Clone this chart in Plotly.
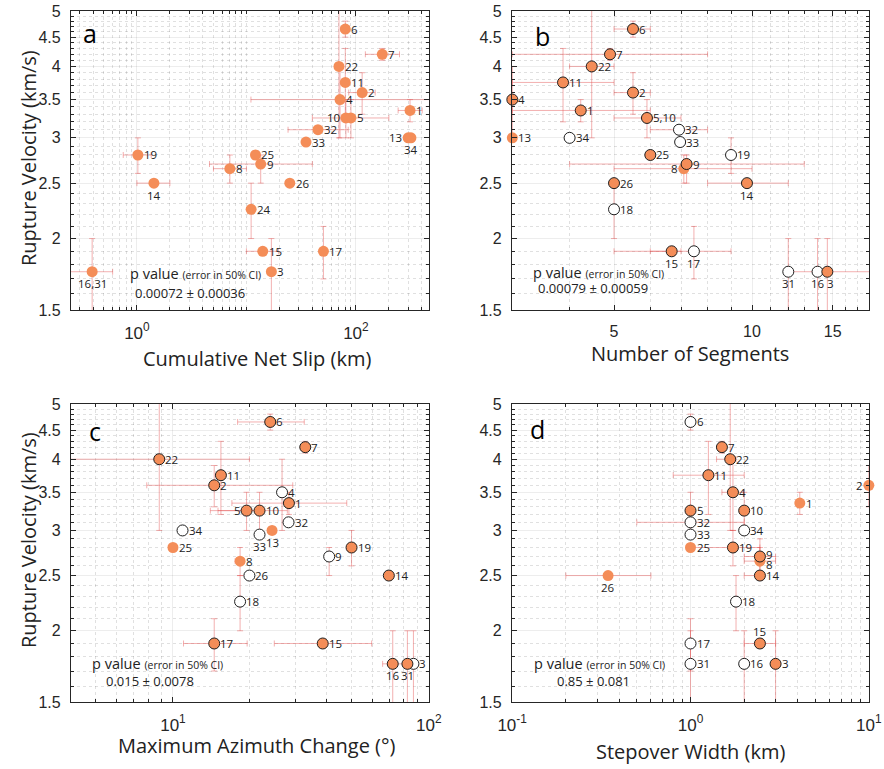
import numpy as np
import plotly.graph_objects as go

W, H = 884, 769

# ---------------- data ----------------
# Panel a: Cumulative Net Slip (km)
A_LABELS = ["1", "2", "3", "4", "5", "6", "7", "8", "9", "10", "11", "13", "14", "15",
            "16,31", "17", "19", "22", "24", "25", "26", "32", "33", "34"]
A_X = [312, 114, 16.9, 71.6, 90, 80, 174, 7.06, 13.5, 81, 80, 300, 1.43, 14.1,
       0.39, 50.5, 1.02, 70, 11.04, 12.1, 24.9, 45, 35, 318]
A_Y = [3.35, 3.6, 1.75, 3.5, 3.25, 4.65, 4.2, 2.65, 2.7, 3.25, 3.75, 3.0, 2.5, 1.9,
       1.75, 1.9, 2.8, 4.0, 2.25, 2.8, 2.5, 3.1, 2.95, 3.0]
A_XLO = [243, 86, None, 11, 40, 73, 122, 5, 4.6, None, None, None, 1.0, 10,
         0.246, None, 0.75, None, None, None, None, 24, None, None]
A_XHI = [403, 150, None, 600, 200, 87, 250, 10, 40, None, None, None, 2.0, 19.6,
         0.6, None, 1.35, None, None, None, None, 85, None, None]
A_YLO = [3.2, 3.3, 1.45, 3.0, 3.0, 4.5, 4.1, 2.5, 2.5, 3.0, 3.2, None, None, None,
         1.45, 1.7, 2.6, 3.0, 2.0, 2.75, None, None, None, None]
A_YHI = [3.5, 3.9, 2.0, 4.0, 3.5, 4.8, 4.3, 2.8, 2.8, 3.5, 4.3, None, None, None,
         2.0, 2.1, 3.0, 5.5, 2.5, 2.85, None, None, None, None]
A_KIND = ["filled"] * len(A_LABELS)

# Panel b: Number of Segments
B_LABELS = ["6", "7", "22", "11", "2", "4", "1", "5,10", "32", "33", "13", "34", "19", "25",
            "9", "8", "26", "14", "18", "15", "17", "31", "16", "3"]
B_X = [5.5, 4.9, 4.47, 3.87, 5.5, 3.0, 4.23, 5.9, 6.93, 6.97, 3.0, 4.0, 9.0, 6.0,
       7.2, 7.1, 5.0, 9.75, 5.0, 6.68, 7.47, 12.0, 13.9, 14.6]
B_Y = [4.65, 4.2, 4.0, 3.75, 3.6, 3.5, 3.35, 3.25, 3.1, 2.95, 3.0, 3.0, 2.8, 2.8,
       2.7, 2.65, 2.5, 2.5, 2.25, 1.9, 1.9, 1.75, 1.75, 1.75]
B_XLO = [5, 3, 4, 3, 5, None, 3, 5, 6, None, None, None, None, None,
         4, 5, None, 8, None, 5, 6, None, None, 12]
B_XHI = [6, 8, 5, 5, 6, None, 6, 7, 8, None, None, None, None, None,
         13, 10, None, 12, None, 7, 9, None, None, 19]
B_YLO = [4.5, 4.1, 3.0, 3.2, 3.3, 3.0, 3.2, 3.0, None, None, None, None, 2.6, None,
         2.5, 2.5, None, None, 2.0, None, 1.7, 1.45, 1.45, 1.45]
B_YHI = [4.8, 4.3, 5.5, 4.3, 3.9, 4.0, 3.5, 3.5, None, None, None, None, 3.0, None,
         2.8, 2.8, None, None, 2.5, None, 2.1, 2.0, 2.0, 2.0]
B_KIND = ["edge", "edge", "edge", "edge", "edge", "edge", "edge", "edge", "open", "open",
          "filled", "open", "open", "edge", "edge", "filled", "edge", "edge", "open",
          "edge", "open", "open", "open", "edge"]

# Panel c: Maximum Azimuth Change (deg)
C_LABELS = ["6", "7", "22", "11", "2", "4", "1", "5", "10", "32", "13", "33", "34", "25",
            "19", "9", "8", "26", "14", "18", "17", "15", "16", "31", "3"]
C_X = [24.0, 32.9, 8.84, 15.4, 14.5, 26.7, 28.4, 19.4, 21.8, 28.3, 24.4, 21.8, 10.9, 10.0,
       49.9, 40.8, 18.3, 19.9, 69.8, 18.3, 14.5, 38.5, 72.3, 82.5, 87.1]
C_Y = [4.65, 4.2, 4.0, 3.75, 3.6, 3.5, 3.35, 3.25, 3.25, 3.1, 3.0, 2.95, 3.0, 2.8,
       2.8, 2.7, 2.65, 2.5, 2.5, 2.25, 1.9, 1.9, 1.75, 1.75, 1.75]
C_XLO = [17.9, None, 3.5, None, 7.9, None, 17, 14, 15, None, None, None, None, None,
         None, None, 17.5, None, None, None, 11, 24.9, 66, None, None]
C_XHI = [32.6, None, 19.9, None, 29.4, None, 47.8, 21, 28, None, None, None, None, None,
         None, None, 19, None, None, None, 19.5, 59.8, 81, None, None]
C_YLO = [4.5, 4.1, 3.0, 3.2, 3.3, 3.0, 3.2, 3.0, 3.0, None, None, None, None, None,
         2.6, 2.5, 2.5, None, None, 2.0, 1.7, None, 1.45, 1.45, 1.45]
C_YHI = [4.8, 4.3, 5.5, 4.3, 3.9, 4.0, 3.5, 3.5, 3.5, None, None, None, None, None,
         3.0, 2.8, 2.8, None, None, 2.5, 2.1, None, 2.0, 2.0, 2.0]
C_KIND = ["edge", "edge", "edge", "edge", "edge", "open", "edge", "edge", "edge", "open",
          "filled", "open", "open", "filled", "edge", "open", "filled", "open", "edge",
          "open", "edge", "edge", "edge", "edge", "open"]

# Panel d: Stepover Width (km)
D_LABELS = ["6", "7", "22", "11", "2", "4", "1", "5", "10", "32", "34", "33", "25", "19",
            "9", "8", "14", "26", "18", "17", "15", "31", "16", "3"]
D_X = [1.0, 1.5, 1.67, 1.26, 10.0, 1.73, 4.1, 1.0, 2.0, 1.0, 2.0, 1.0, 1.0, 1.73,
       2.45, 2.45, 2.45, 0.345, 1.8, 1.0, 2.45, 1.0, 2.0, 3.0]
D_Y = [4.65, 4.2, 4.0, 3.75, 3.6, 3.5, 3.35, 3.25, 3.25, 3.1, 3.0, 2.95, 2.8, 2.8,
       2.7, 2.65, 2.5, 2.5, 2.25, 1.9, 1.9, 1.75, 1.75, 1.75]
D_XLO = [None, None, 1.4, 0.8, None, 1.5, None, None, None, 0.5, None, None, None, 1.0,
         2.0, 2.0, 2.0, 0.2, None, None, 2.0, None, None, None]
D_XHI = [None, None, 1.8, 2.0, None, 2.0, None, None, None, 2.0, None, None, None, 2.45,
         3.0, 3.0, 2.45, 0.6, None, None, 3.0, None, None, None]
D_YLO = [4.5, 4.1, 3.0, 3.2, 3.3, 3.0, 3.2, 3.0, 3.0, None, None, None, None, 2.6,
         2.5, 2.5, None, None, 2.0, 1.7, None, 1.45, 1.45, 1.45]
D_YHI = [4.8, 4.3, 5.5, 4.3, 3.9, 4.0, 3.5, 3.5, 3.5, None, None, None, None, 3.0,
         2.9, 2.8, None, None, 2.5, 2.1, None, 2.0, 2.0, 2.0]
D_KIND = ["open", "edge", "edge", "edge", "filled", "edge", "filled", "edge", "edge", "open",
          "open", "open", "filled", "edge", "edge", "filled", "edge", "filled", "open",
          "open", "edge", "open", "open", "edge"]

P_VALUES = ["0.00072 ± 0.00036", "0.00079 ± 0.00059", "0.015 ± 0.0078", "0.85 ± 0.081"]
PANEL_LETTERS = ["a", "b", "c", "d"]
X_TITLES = ["Cumulative Net Slip (km)", "Number of Segments",
            "Maximum Azimuth Change (°)", "Stepover Width (km)"]
Y_TITLE = "Rupture Velocity (km/s)"

Y_TICKS = [1.5, 2, 2.5, 3, 3.5, 4, 4.5, 5]
Y_TICKTEXT = ["1.5", "2", "2.5", "3", "3.5", "4", "4.5", "5"]

X_TICKS = [[1, 100], [5, 10, 15], [10, 100], [0.1, 1, 10]]
X_TICKTEXT = [["10<sup>0</sup>", "10<sup>2</sup>"], ["5", "10", "15"],
              ["10<sup>1</sup>", "10<sup>2</sup>"],
              ["10<sup>-1</sup>", "10<sup>0</sup>", "10<sup>1</sup>"]]
X_MINOR = [
    [0.3, 0.4, 0.5, 0.6, 0.7, 0.8, 0.9] + list(range(2, 10)) + list(range(10, 100, 10)) + [200, 300, 400],
    [3, 4, 6, 7, 8, 9, 11, 12, 13, 14, 16, 17, 18],
    [4, 5, 6, 7, 8, 9] + list(range(20, 100, 10)),
    [0.2, 0.3, 0.4, 0.5, 0.6, 0.7, 0.8, 0.9] + list(range(2, 10)),
]
X_RANGES = [(0.25, 465), (2.995, 18), (3.995, 100.2), (0.0998, 10.02)]
Y_RANGE = (1.5, 5)

# ---------------- style / layout ----------------
ORANGE = "#F48D58"
EDGE = "#1e1e1e"
ERR = "rgba(228,80,80,0.45)"
AXC = "#262626"
TXT = "#222222"

LABEL_POS = [
    {"14": "below", "16,31": "below", "13": "left", "34": "below", "10": "left"},
    {"8": "left", "14": "below", "15": "below", "17": "below", "31": "below", "16": "below", "3": "below_r"},
    {"33": "below", "13": "below", "16": "below", "31": "below", "5": "left"},
    {"26": "below", "15": "above", "2": "left", "8": "right_low", "9": "right_high"},
]
X_TICKSIZE = [17, 16, 17, 17]

# pixel boxes (left, top, right, bottom)
BOXES = [(71, 11, 429, 310), (512, 11, 869, 310), (71, 404, 429, 702), (512, 404, 869, 702)]


def px2paper(px, py):
    return px / W, 1 - py / H


fig = go.Figure()

panels = [
    (A_LABELS, A_X, A_Y, A_XLO, A_XHI, A_YLO, A_YHI, A_KIND),
    (B_LABELS, B_X, B_Y, B_XLO, B_XHI, B_YLO, B_YHI, B_KIND),
    (C_LABELS, C_X, C_Y, C_XLO, C_XHI, C_YLO, C_YHI, C_KIND),
    (D_LABELS, D_X, D_Y, D_XLO, D_XHI, D_YLO, D_YHI, D_KIND),
]

annotations = []
y_minor = [round(v, 1) for v in np.arange(1.6, 5.0, 0.1) if abs(v * 2 - round(v * 2)) > 1e-6]

for i, (labels, xs, ys, xlo, xhi, ylo, yhi, kinds) in enumerate(panels):
    sfx = "" if i == 0 else str(i + 1)
    xa, ya = "x" + sfx, "y" + sfx
    xs = np.array(xs, float)
    ys = np.array(ys, float)
    ex_p = np.array([0 if h is None else h - x for h, x in zip(xhi, xs)], float)
    ex_m = np.array([0 if l is None else x - l for l, x in zip(xlo, xs)], float)
    ey_p = np.array([0 if h is None else h - y for h, y in zip(yhi, ys)], float)
    ey_m = np.array([0 if l is None else y - l for l, y in zip(ylo, ys)], float)

    # error bars (clipped to the axes)
    fig.add_trace(go.Scatter(
        x=xs, y=ys, mode="markers", xaxis=xa, yaxis=ya,
        marker=dict(size=2, opacity=0),
        error_x=dict(type="data", symmetric=False, array=ex_p, arrayminus=ex_m,
                     color=ERR, thickness=1, width=3),
        error_y=dict(type="data", symmetric=False, array=ey_p, arrayminus=ey_m,
                     color=ERR, thickness=1, width=3),
        cliponaxis=True, hoverinfo="skip", showlegend=False))

    for kind in ["filled", "open", "edge"]:
        idx = [k for k, kd in enumerate(kinds) if kd == kind]
        if not idx:
            continue
        if kind == "filled":
            mk = dict(size=11, color=ORANGE, line=dict(width=0))
        elif kind == "edge":
            mk = dict(size=11, color=ORANGE, line=dict(width=1, color=EDGE))
        else:
            mk = dict(size=11, color="white", line=dict(width=1, color=EDGE))
        fig.add_trace(go.Scatter(
            x=xs[idx], y=ys[idx], mode="markers", xaxis=xa, yaxis=ya,
            marker=mk, cliponaxis=False, showlegend=False, hoverinfo="skip"))

    # point labels
    for lab, x, y in zip(labels, xs, ys):
        pos = LABEL_POS[i].get(lab, "right")
        if pos == "right":
            xanc, xsh, ysh = "left", 5, 0
        elif pos == "right_low":
            xanc, xsh, ysh = "left", 5, -3
        elif pos == "right_high":
            xanc, xsh, ysh = "left", 5, 2
        elif pos == "left":
            xanc, xsh, ysh = "right", -5, 0
        elif pos == "below":
            xanc, xsh, ysh = "center", 0, -12
        elif pos == "below_r":
            xanc, xsh, ysh = "center", 3, -12
        else:
            xanc, xsh, ysh = "center", 0, 12
        annotations.append(dict(
            x=np.log10(x), y=np.log10(y), xref=xa, yref=ya, text=lab, showarrow=False,
            xanchor=xanc, yanchor="middle", xshift=xsh, yshift=ysh,
            font=dict(family="Open Sans", size=11.5, color=TXT), borderpad=0))

    l, t, r, b = BOXES[i]
    x0, y1 = px2paper(l, t)
    x1, y0 = px2paper(r, b)
    common = dict(showline=True, linecolor=AXC, linewidth=1.2, mirror="allticks",
                  ticks="inside", ticklen=5, tickcolor=AXC, tickwidth=1,
                  showgrid=True, gridcolor="rgba(0,0,0,0.07)", gridwidth=1,
                  zeroline=False, type="log", automargin=False)
    fig.layout["xaxis" + sfx] = dict(
        domain=[x0, x1], anchor=ya,
        range=[np.log10(X_RANGES[i][0]), np.log10(X_RANGES[i][1])],
        tickmode="array", tickvals=X_TICKS[i], ticktext=X_TICKTEXT[i],
        ticklabelstandoff=7,
        tickfont=dict(family="Liberation Sans", size=X_TICKSIZE[i], color=AXC),
        minor=dict(tickvals=X_MINOR[i], ticks="inside", ticklen=3, tickcolor=AXC,
                   showgrid=True, gridcolor="rgba(0,0,0,0.12)", griddash="dot"),
        **common)
    fig.layout["yaxis" + sfx] = dict(
        domain=[y0, y1], anchor=xa,
        range=[np.log10(Y_RANGE[0]), np.log10(Y_RANGE[1])],
        tickmode="array", tickvals=Y_TICKS, ticktext=Y_TICKTEXT,
        ticklabelstandoff=6,
        tickfont=dict(family="Liberation Sans", size=16, color=AXC),
        minor=dict(tickvals=y_minor, ticks="inside", ticklen=3, tickcolor=AXC,
                   showgrid=True, gridcolor="rgba(0,0,0,0.12)", griddash="dot"),
        **common)

# panel letters
LETTER_POS = [(90, 33), (542, 36), (95, 431), (537, 429)]
for letter, (px, py) in zip(PANEL_LETTERS, LETTER_POS):
    xp, yp = px2paper(px, py)
    annotations.append(dict(x=xp, y=yp, xref="paper", yref="paper", text=letter,
                            showarrow=False, xanchor="center", yanchor="middle",
                            font=dict(family="Open Sans", size=25, color="black")))

# p-values
PV_POS = [((128, 274), (190, 293)), ((531, 272), (593, 288)),
          ((90, 663), (150, 681)), ((532, 663), (593, 681))]
for pv, ((lx, ly), (nx, ny)) in zip(P_VALUES, PV_POS):
    xp, yp = px2paper(lx, ly)
    annotations.append(dict(x=xp, y=yp, xref="paper", yref="paper",
                            text="p value <span style='font-size:10.5px'>(error in 50% CI)</span>",
                            showarrow=False, xanchor="left", yanchor="middle",
                            font=dict(family="Open Sans", size=14.5, color=TXT)))
    xp, yp = px2paper(nx, ny)
    annotations.append(dict(x=xp, y=yp, xref="paper", yref="paper", text=pv,
                            showarrow=False, xanchor="center", yanchor="middle",
                            font=dict(family="Open Sans", size=13, color=TXT)))

# axis titles
XT_POS = [(257, 358), (690, 354), (257, 745), (690, 751)]
for txt, (px, py) in zip(X_TITLES, XT_POS):
    xp, yp = px2paper(px, py)
    annotations.append(dict(x=xp, y=yp, xref="paper", yref="paper", text=txt,
                            showarrow=False, xanchor="center", yanchor="middle",
                            font=dict(family="Open Sans", size=20, color=TXT)))
for (px, py) in [(28, 158), (28, 540)]:
    xp, yp = px2paper(px, py)
    annotations.append(dict(x=xp, y=yp, xref="paper", yref="paper", text=Y_TITLE,
                            showarrow=False, xanchor="center", yanchor="middle", textangle=-90,
                            font=dict(family="Open Sans", size=20, color=TXT)))

fig.update_layout(width=W, height=H, margin=dict(l=0, r=0, t=0, b=0, autoexpand=False),
                  paper_bgcolor="white", plot_bgcolor="white",
                  annotations=annotations, showlegend=False)

fig.write_html("out.html")
